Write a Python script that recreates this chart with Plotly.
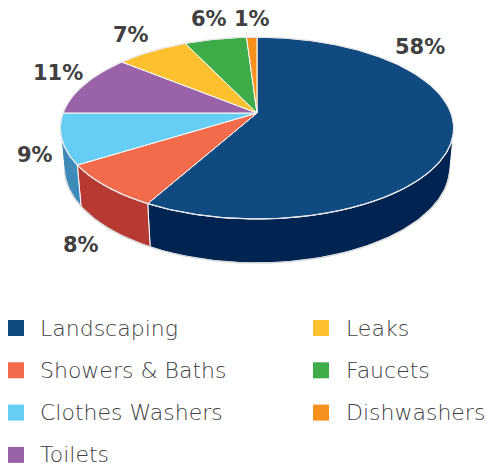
import numpy as np
import plotly.graph_objects as go

# ---- data ----
CATEGORIES = ["Landscaping", "Showers & Baths", "Clothes Washers", "Toilets",
              "Leaks", "Faucets", "Dishwashers"]
VALUES = [58, 8, 9, 11, 7, 6, 1]
TOP_COLORS = ["#114a80", "#f26b4a", "#66cef5", "#9a62a8", "#fdc02f", "#3eac49", "#f7911e"]
SIDE_COLORS = ["#002452", "#b63a31", "#3e8ab9", "#6d3f7a", "#c38f14", "#2a7d34", "#b8650f"]
LABEL_TEXT = [f"{v}%" for v in VALUES]

# ---- perspective pie geometry (layout) ----
CX, CY = 257.0, 113.0
FOCAL = 1045.7
DIST = 5.39
ELEV = np.arcsin(0.456)
THICK = 0.23
SE, CE = np.sin(ELEV), np.cos(ELEV)
PAGE_MARGIN = 8  # default body margin of the html page


def project(phi_deg, z):
    phi = np.radians(np.asarray(phi_deg, dtype=float))
    x, y = np.sin(phi), np.cos(phi)
    depth = y * CE + DIST - z * SE
    sx = CX + FOCAL * x / depth
    sy = CY - FOCAL * (y * SE + z * CE) / depth
    return sx, sy


total = float(sum(VALUES))
bounds = np.concatenate([[0.0], np.cumsum(VALUES) / total * 360.0])
sil = np.degrees(np.arccos(-1.0 / (DIST * CE)))
vis_lo, vis_hi = sil, 360.0 - sil

fig = go.Figure()

# sides
for i in range(len(VALUES)):
    a0, a1 = bounds[i], bounds[i + 1]
    lo, hi = max(a0, vis_lo), min(a1, vis_hi)
    if hi <= lo:
        continue
    ang = np.linspace(lo, hi, 80)
    tx, ty = project(ang, 0.0)
    bx, by = project(ang[::-1], -THICK)
    fig.add_trace(go.Scatter(
        x=np.concatenate([tx, bx, tx[:1]]), y=np.concatenate([ty, by, ty[:1]]),
        fill="toself", fillcolor=SIDE_COLORS[i], mode="lines",
        line=dict(color="white", width=1), hoverinfo="skip", showlegend=False))

# outer outline of the body
ang = np.linspace(vis_lo, vis_hi, 200)
bx, by = project(ang, -THICK)
fig.add_trace(go.Scatter(x=bx, y=by, mode="lines", line=dict(color="#d9d9d9", width=1.5),
                         hoverinfo="skip", showlegend=False))

# tops
for i in range(len(VALUES)):
    a0, a1 = bounds[i], bounds[i + 1]
    ang = np.linspace(a0, a1, max(int((a1 - a0) * 2), 4))
    tx, ty = project(ang, 0.0)
    fig.add_trace(go.Scatter(
        x=np.concatenate([[CX], tx, [CX]]), y=np.concatenate([[CY], ty, [CY]]),
        fill="toself", fillcolor=TOP_COLORS[i], mode="lines",
        line=dict(color="white", width=1), hoverinfo="skip",
        name=CATEGORIES[i], showlegend=False))

# rim outline
ang = np.linspace(0, 360, 400)
tx, ty = project(ang, 0.0)
fig.add_trace(go.Scatter(x=tx, y=ty, mode="lines", line=dict(color="#e6e6e6", width=1.2),
                         hoverinfo="skip", showlegend=False))

# data labels
LABEL_POS = [(420, 47), (81, 245), (35, 155), (58, 73), (131, 35), (209, 19), (252, 19)]
for txt, (lx, ly) in zip(LABEL_TEXT, LABEL_POS):
    fig.add_annotation(x=lx, y=ly, text=txt, showarrow=False, xanchor="center", yanchor="middle",
                       borderpad=0,
                       font=dict(family="DejaVu Sans", size=21, color="#404040", weight="bold"))

# legend (column-major, 4 rows)
ROW_Y0, ROW_DY = 328, 42.3
COL_SQ_X = [8, 313]
COL_TX_X = [39, 345]
for i, name in enumerate(CATEGORIES):
    col, row = i // 4, i % 4
    yc = ROW_Y0 + row * ROW_DY
    fig.add_shape(type="rect", x0=COL_SQ_X[col], x1=COL_SQ_X[col] + 16, y0=yc - 8, y1=yc + 8,
                  fillcolor=TOP_COLORS[i], line=dict(width=0), xref="x", yref="y")
    fig.add_annotation(x=COL_TX_X[col], y=yc, text=name, showarrow=False,
                       xanchor="left", yanchor="middle", borderpad=0,
                       font=dict(family="DejaVu Sans", size=22, color="#404040", weight=300))

W, H = 496, 468
fig.update_layout(
    width=W - PAGE_MARGIN, height=H - PAGE_MARGIN, margin=dict(l=0, r=0, t=0, b=0),
    paper_bgcolor="white", plot_bgcolor="white", showlegend=False,
    xaxis=dict(range=[PAGE_MARGIN, W], visible=False, fixedrange=True),
    yaxis=dict(range=[H, PAGE_MARGIN], visible=False, fixedrange=True),
)
fig.write_html("out.html")
